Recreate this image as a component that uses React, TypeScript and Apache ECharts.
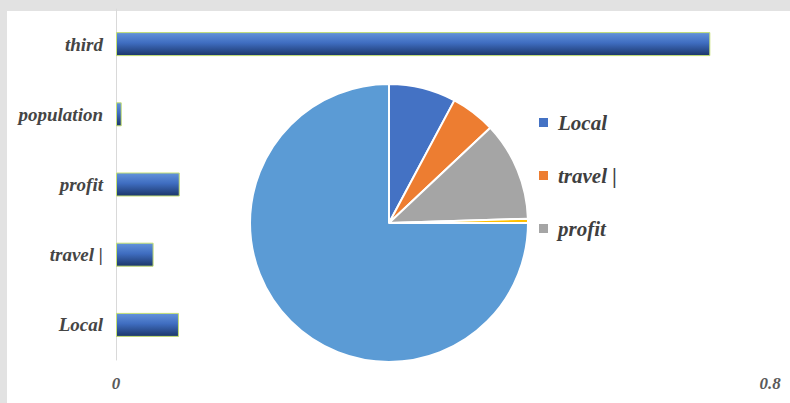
import React, { useEffect, useRef } from "react";
import * as echarts from "echarts";

const categories = ["Local", "travel |", "profit", "population", "third"];
const barValues = [0.077, 0.046, 0.078, 0.007, 0.727];
const xTicks = [0, 0.8];

const pieNames = ["Local", "travel |", "profit", "population", "third"];
const pieValues = [0.078, 0.052, 0.115, 0.005, 0.75];
const pieColors = ["#4472c4", "#ed7d31", "#a5a5a5", "#ffc000", "#5b9bd5"];
const legendNames = ["Local", "travel |", "profit"];

const FONT = "Liberation Serif";

export default function App() {
  const ref = useRef<HTMLDivElement>(null);
  useEffect(() => {
    if (!ref.current) return;
    const chart = echarts.init(ref.current, undefined, { renderer: "svg" });
    chart.setOption({
      animation: false,
      backgroundColor: "transparent",
      grid: { left: 116, right: 20, top: 9, bottom: 43, containLabel: false },
      xAxis: {
        type: "value",
        min: xTicks[0],
        max: xTicks[1],
        interval: 0.8,
        axisLine: { show: false },
        axisTick: { show: false },
        splitLine: { show: false },
        axisLabel: {
          margin: 15,
          fontFamily: FONT,
          fontStyle: "italic",
          fontWeight: "bold",
          fontSize: 17,
          color: "#5a5a5a",
          formatter: (v: number) => (v === 0 ? "0" : String(v)),
        },
      },
      yAxis: {
        type: "category",
        data: categories,
        axisLine: { show: true, lineStyle: { color: "#d9d9d9", width: 1 } },
        axisTick: { show: false },
        axisLabel: {
          margin: 13,
          fontFamily: FONT,
          fontStyle: "italic",
          fontWeight: "bold",
          fontSize: 19,
          color: "#454545",
        },
      },
      legend: {
        orient: "vertical",
        left: 532,
        top: 107,
        data: legendNames,
        itemWidth: 11,
        itemHeight: 11,
        itemGap: 32,
        icon: "rect",
        textStyle: {
          fontFamily: FONT,
          fontStyle: "italic",
          fontWeight: "bold",
          fontSize: 21,
          color: "#3f3f3f",
          padding: [0, 0, 0, 4],
        },
      },
      series: [
        {
          type: "bar",
          name: "bars",
          data: barValues,
          barWidth: 24,
          itemStyle: {
            color: new echarts.graphic.LinearGradient(0, 0, 0, 1, [
              { offset: 0, color: "#6393db" },
              { offset: 0.45, color: "#3f6dc0" },
              { offset: 1, color: "#1b3669" },
            ]),
            borderColor: "#c4df74",
            borderWidth: 1,
          },
        },
        {
          type: "pie",
          name: "pie",
          center: [389, 223],
          radius: 139,
          startAngle: 90,
          clockwise: true,
          label: { show: false },
          labelLine: { show: false },
          itemStyle: { borderColor: "#ffffff", borderWidth: 2 },
          data: pieNames.map((n, i) => ({
            name: n,
            value: pieValues[i],
            itemStyle: { color: pieColors[i] },
          })),
        },
      ],
    });
    return () => chart.dispose();
  }, []);

  return (
    <div
      style={{
        position: "fixed",
        left: 0,
        top: 0,
        width: 790,
        height: 403,
        background: "#e2e2e2",
      }}
    >
      <div
        style={{
          position: "absolute",
          left: 7,
          top: 11,
          width: 783,
          height: 392,
          background: "#ffffff",
        }}
      />
      <div
        ref={ref}
        style={{ position: "absolute", left: 0, top: 0, width: 790, height: 403 }}
      />
    </div>
  );
}
